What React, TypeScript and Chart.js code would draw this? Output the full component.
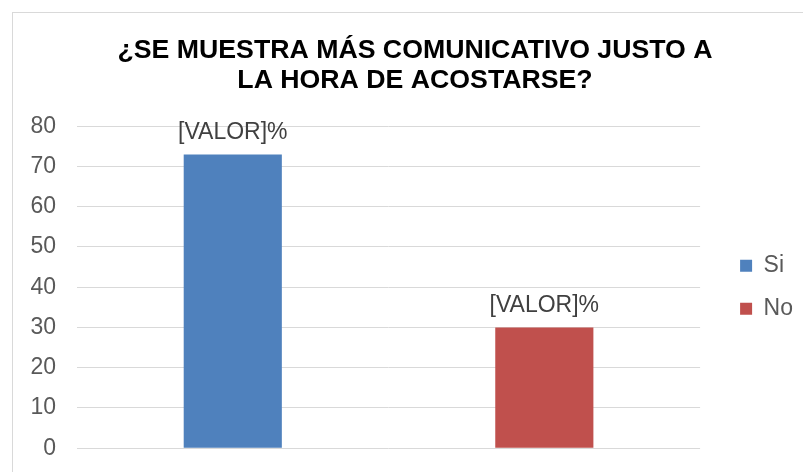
import React, { useEffect, useRef } from "react";
import { Chart, registerables } from "chart.js";

Chart.register(...registerables);

const titleLines = ["¿SE MUESTRA MÁS COMUNICATIVO JUSTO A", "LA HORA DE ACOSTARSE?"];
const categories = [""];
const seriesNames = ["Si", "No"];
const siValues = [73];
const noValues = [30];
const siLabels = ["[VALOR]%"];
const noLabels = ["[VALOR]%"];
const yTickMin = 0;
const yTickMax = 80;
const yTickStep = 10;

const FONT = "'Liberation Sans', Arial, sans-serif";
const BLUE = "#4F81BD";
const RED = "#C0504D";

const valueLabelPlugin = {
  id: "valueLabels",
  afterDatasetsDraw(chart: any) {
    const ctx = chart.ctx;
    const labelSets = [siLabels, noLabels];
    ctx.save();
    ctx.font = `23px ${FONT}`;
    ctx.fillStyle = "#404040";
    ctx.textAlign = "center";
    ctx.textBaseline = "alphabetic";
    chart.data.datasets.forEach((_ds: any, di: number) => {
      const meta = chart.getDatasetMeta(di);
      meta.data.forEach((el: any, i: number) => {
        const txt = labelSets[di][i];
        ctx.fillText(txt, el.x, el.y - 15);
      });
    });
    ctx.restore();
  },
};

export default function App() {
  const canvasRef = useRef<HTMLCanvasElement | null>(null);

  useEffect(() => {
    if (!canvasRef.current) return;
    const chart = new Chart(canvasRef.current, {
      type: "bar",
      data: {
        labels: categories,
        datasets: [
          {
            label: seriesNames[0],
            data: siValues,
            backgroundColor: BLUE,
            borderWidth: 0,
            categoryPercentage: 1,
            barPercentage: 0.315,
          },
          {
            label: seriesNames[1],
            data: noValues,
            backgroundColor: RED,
            borderWidth: 0,
            categoryPercentage: 1,
            barPercentage: 0.315,
          },
        ],
      },
      options: {
        responsive: false,
        animation: false,
        devicePixelRatio: 1,
        layout: { padding: 0 },
        plugins: {
          title: {
            display: true,
            text: titleLines,
            color: "#000000",
            font: { family: FONT, size: 26.7, weight: "bold", lineHeight: 1.11 },
            padding: { top: 36, bottom: 31 },
          },
          legend: {
            display: true,
            position: "right",
            fullSize: false,
            labels: {
              color: "#595959",
              font: { family: FONT, size: 23 },
              boxWidth: 12,
              boxHeight: 12,
              padding: 20,
            },
          },
          tooltip: { enabled: false },
        },
        scales: {
          x: { display: false },
          y: {
            min: yTickMin,
            max: yTickMax,
            ticks: {
              stepSize: yTickStep,
              color: "#595959",
              font: { family: FONT, size: 23 },
              padding: 21,
            },
            grid: { color: "#d9d9d9", lineWidth: 1, drawTicks: false },
            border: { display: false },
            afterFit: (s: any) => {
              s.width = 77;
            },
          },
          gapInner: {
            type: "linear",
            position: "right",
            display: true,
            weight: 0,
            ticks: { display: false },
            grid: { display: false, drawTicks: false },
            border: { display: false },
            afterFit: (s: any) => {
              s.width = 20;
            },
          },
          gapOuter: {
            type: "linear",
            position: "right",
            display: true,
            weight: 2000,
            ticks: { display: false },
            grid: { display: false, drawTicks: false },
            border: { display: false },
            afterFit: (s: any) => {
              s.width = 27;
            },
          },
        },
      },
      plugins: [valueLabelPlugin],
    } as any);
    return () => chart.destroy();
  }, []);

  return (
    <div
      style={{
        position: "fixed",
        left: 0,
        top: 0,
        width: 803,
        height: 472,
        overflow: "hidden",
        background: "#ffffff",
      }}
    >
      <div
        style={{
          position: "absolute",
          left: 12,
          top: 12,
          width: 830,
          height: 500,
          border: "1px solid #d9d9d9",
          boxSizing: "border-box",
        }}
      />
      <canvas
        ref={canvasRef}
        width={830}
        height={483}
        style={{ position: "absolute", left: 0, top: 0, width: 830, height: 483 }}
      />
    </div>
  );
}
